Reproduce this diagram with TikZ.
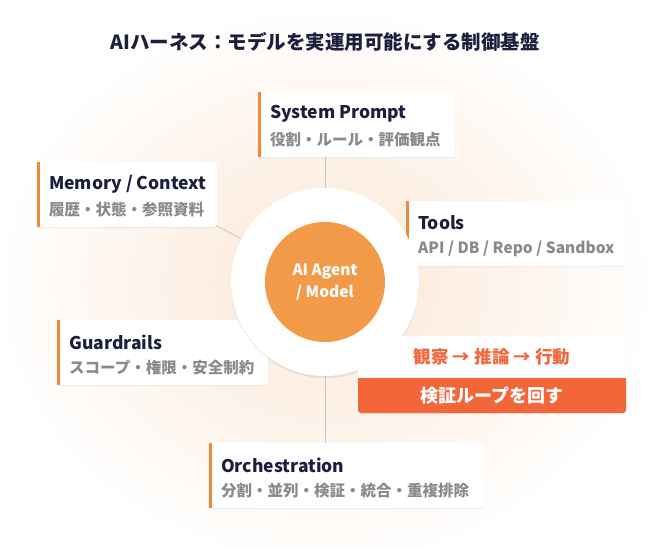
\documentclass[tikz,border=0pt]{standalone}
\usepackage{fontspec}
\setmainfont{Noto Sans CJK JP}
\usepackage{tikz}
\usetikzlibrary{positioning, shadows}
\definecolor{navy}{HTML}{1B1E3C}
\definecolor{subgray}{HTML}{8A8A8A}
\definecolor{accent}{HTML}{F08A3A}
\definecolor{core}{HTML}{F29A48}
\definecolor{loopred}{HTML}{F2663A}
\definecolor{glow}{HTML}{FBE6D4}
\tikzset{
	card/.style={draw=none, fill=white, rounded corners=3pt, drop shadow={opacity=0.12, shadow xshift=0pt, shadow yshift=-1pt}},
	cardtitle/.style={anchor=west, inner sep=0pt, font=\bfseries\fontsize{17.5}{20}\selectfont, text=navy},
	cardsub/.style={anchor=west, inner sep=0pt, font=\bfseries\fontsize{15.5}{18}\selectfont, text=subgray},
	link/.style={draw=gray!45, line width=0.8pt}
}
\newcommand{\HarnessCard}[4]{
	% #1 name, #2 x, #3 y, #4 width
	\fill[card] (#2,#3) rectangle ++(#4,65);
	\fill[accent] (#2,#3) rectangle ++(3,65);
	\coordinate (#1) at (#2,#3);
}
\begin{document}
\begin{tikzpicture}[x=1pt, y=-1pt]
	\useasboundingbox (0,0) rectangle (650,546);
	\fill[white] (0,0) rectangle (650,546);
	\shade[inner color=glow, outer color=white] (325,285) ellipse (330 and 280);

	\node[font=\bfseries\fontsize{19.5}{22}\selectfont, text=navy] (title) at (325,42) {AIハーネス：モデルを実運用可能にする制御基盤};

	% connectors behind
	\coordinate (hub) at (325,282);
	\draw[link] (hub) -- (325,157);
	\draw[link] (hub) -- (325,443);
	\draw[link] (hub) -- (215,225);
	\draw[link] (hub) -- (410,240);

	% cards
	\HarnessCard{sp}{258}{92}{197}
	\node[cardtitle] (spT) at (270,114) {System Prompt};
	\node[cardsub] (spS) at (270,140) {役割・ルール・評価観点};

	\HarnessCard{mc}{37}{162}{180}
	\node[cardtitle] (mcT) at (49,184) {Memory / Context};
	\node[cardsub] (mcS) at (49,210) {履歴・状態・参照資料};

	\HarnessCard{tl}{406}{201}{220}
	\node[cardtitle] (tlT) at (418,223) {Tools};
	\node[cardsub] (tlS) at (418,249) {API / DB / Repo / Sandbox};

	\HarnessCard{gr}{57}{320}{211}
	\node[cardtitle] (grT) at (69,342) {Guardrails};
	\node[cardsub] (grS) at (69,368) {スコープ・権限・安全制約};

	\HarnessCard{or}{209}{443}{276}
	\node[cardtitle] (orT) at (221,465) {Orchestration};
	\node[cardsub] (orS) at (221,491) {分割・並列・検証・統合・重複排除};

	% core
	\fill[white, drop shadow={opacity=0.15, shadow xshift=0pt, shadow yshift=-2pt}] (hub) circle (94);
	\fill[core] (hub) circle (60);
	\node[text=white, font=\bfseries\fontsize{15.5}{22}\selectfont, align=center] (agent) at (hub) {AI Agent\\/ Model};

	% loop box
	\fill[card] (358,336) rectangle (626,413);
	\fill[loopred, rounded corners=3pt] (358,378) rectangle (626,413);
	\fill[loopred] (358,378) rectangle (626,390);
	\node[text=loopred, font=\bfseries\fontsize{17.5}{20}\selectfont] (loopA) at (492,357) {観察 → 推論 → 行動};
	\node[text=white, font=\bfseries\fontsize{18}{20}\selectfont] (loopB) at (492,396) {検証ループを回す};
\end{tikzpicture}
\end{document}
